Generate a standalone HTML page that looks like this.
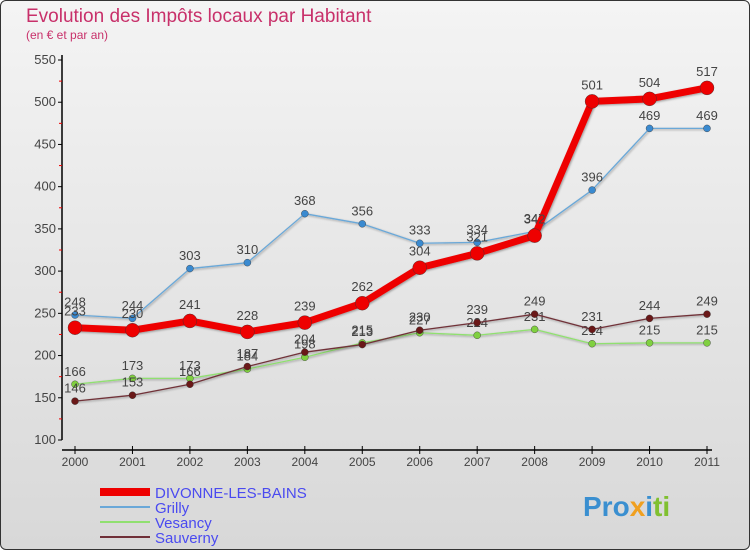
<!DOCTYPE html>
<html><head><meta charset="utf-8"><style>
body{margin:0;width:750px;height:550px;overflow:hidden;font-family:"Liberation Sans",sans-serif}
#wrap{position:absolute;left:0;top:0;width:748px;height:548px;border:1px solid #333;border-radius:6px;background:linear-gradient(#f4f4f4,#d8d8d8)}
</style></head><body>
<div id="wrap">
<svg id="chart" width="750" height="550" style="position:absolute;left:-1px;top:-1px">
<defs><filter id="sh"><feDropShadow dx="1" dy="1" stdDeviation="1" flood-opacity="0.35"/></filter></defs>
<text x="26" y="22" font-size="19" fill="#c8306a">Evolution des Impôts locaux par Habitant</text>
<text x="26" y="39" font-size="12" fill="#c8306a">(en € et par an)</text>
<g id="axes"></g><g id="series"></g><g id="legend"></g>
<text x="583" y="516" font-size="28" font-weight="bold" fill="#3a8fd0">Pro<tspan fill="#f0a020">x</tspan><tspan fill="#3a8fd0">i</tspan><tspan fill="#80c030">ti</tspan></text>
</svg></div>
<script>
const years=["2000","2001","2002","2003","2004","2005","2006","2007","2008","2009","2010","2011"];
const yTicks=[100,150,200,250,300,350,400,450,500,550];
const divonne=[233,230,241,228,239,262,304,321,342,501,504,517];
const grilly=[248,244,303,310,368,356,333,334,347,396,469,469];
const vesancy=[166,173,173,184,198,215,227,224,231,214,215,215];
const sauverny=[146,153,166,187,204,213,230,239,249,231,244,249];
const NS="http://www.w3.org/2000/svg";
const X=i=>75+i*(707-75)/11, Y=v=>440-(v-100)*380/450;
function mk(p,t,a){const e=document.createElementNS(NS,t);for(const k in a)e.setAttribute(k,a[k]);p.appendChild(e);return e;}
const ax=document.getElementById('axes');
let e=mk(ax,'line',{x1:62,y1:55,x2:62,y2:440,stroke:'#000','stroke-width':1.5});

e=mk(ax,'line',{x1:62,y1:450,x2:712,y2:450,stroke:'#000','stroke-width':1.5});

yTicks.forEach(v=>{mk(ax,'line',{x1:58,y1:Y(v),x2:62,y2:Y(v),stroke:'#000'});
 const t=mk(ax,'text',{x:56,y:Y(v)+4,'font-size':13,fill:'#444','text-anchor':'end'});t.textContent=v;
 
 if(v<550)mk(ax,'line',{x1:59,y1:Y(v+25),x2:62,y2:Y(v+25),stroke:'#e00'});});
years.forEach((y,i)=>{mk(ax,'line',{x1:X(i),y1:446,x2:X(i),y2:454,stroke:'#000'});
 const t=mk(ax,'text',{x:X(i),y:466,'font-size':12,fill:'#444','text-anchor':'middle'});t.textContent=y;
 });
const sg=document.getElementById('series');
function draw(data,col,w,r,name,dot){const g=mk(sg,'g',{});
 
 mk(g,'polyline',{points:data.map((v,i)=>X(i)+','+Y(v)).join(' '),fill:'none',stroke:col,'stroke-width':w,'stroke-linejoin':'round',filter:'url(#sh)'});
 data.forEach((v,i)=>{const c=mk(g,'circle',{cx:X(i),cy:Y(v),r:r,fill:dot,stroke:'#333','stroke-width':0.4});
  
  const t=mk(g,'text',{x:X(i),y:Y(v)-(r+5),'font-size':13,fill:'#444','text-anchor':'middle'});t.textContent=v;
  });}
draw(grilly,'#6aa8d8',1.3,3.5,'series-grilly','#3a8ad0');
draw(vesancy,'#90e070',1.3,3.5,'series-vesancy','#80d040');
draw(sauverny,'#703038',1.3,3.5,'series-sauverny','#6a1818');
draw(divonne,'#ee0000',7,7,'series-divonne','#ee0000');
const lg=document.getElementById('legend');
[["DIVONNE-LES-BAINS",'#ee0000',8],["Grilly",'#6aa8d8',2],["Vesancy",'#90e070',2],["Sauverny",'#703038',2]].forEach((s,i)=>{
 const g=mk(lg,'g',{});
 mk(g,'line',{x1:100,y1:492+i*15,x2:150,y2:492+i*15,stroke:s[1],'stroke-width':s[2]});
 const t=mk(g,'text',{x:155,y:498+i*15,'font-size':15,fill:'#4a4af0'});t.textContent=s[0];});
</script></body></html>
